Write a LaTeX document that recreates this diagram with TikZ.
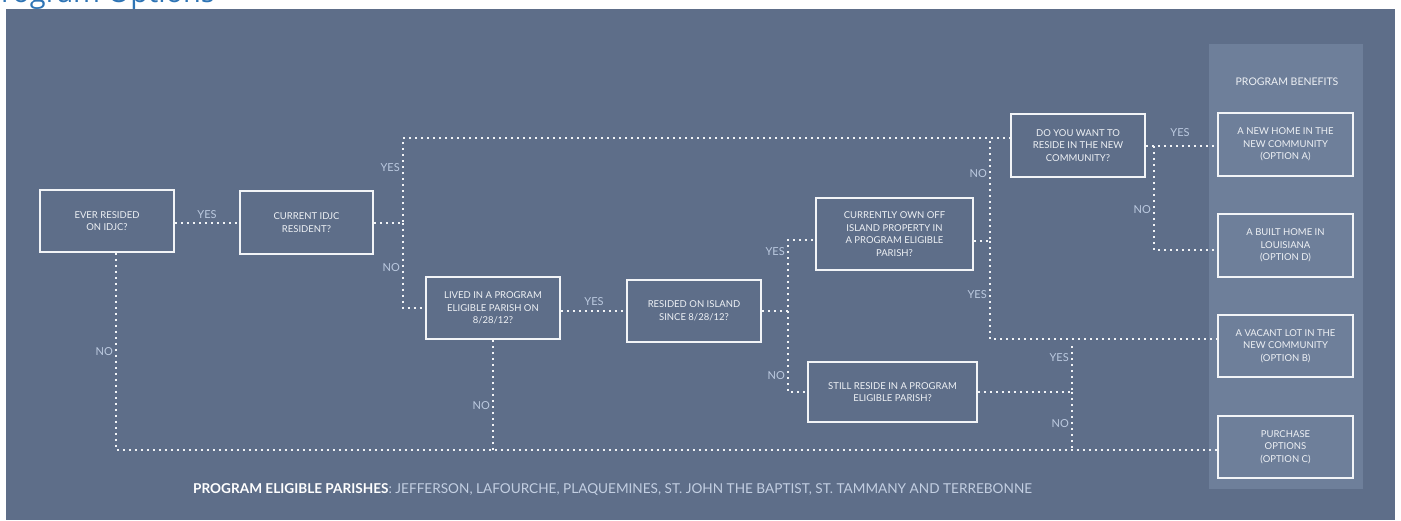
\documentclass[tikz,border=0pt]{standalone}
\usepackage{fontspec}
\setmainfont{Lato}
\newfontfamily\titlefont{Open Sans}
\definecolor{panel}{HTML}{5E6E89}
\definecolor{column}{HTML}{6E7F9A}
\definecolor{boxline}{HTML}{F2F4F7}
\definecolor{boxtext}{HTML}{EEF1F5}
\definecolor{lblcol}{HTML}{BCCAE0}
\definecolor{titleblue}{HTML}{2E74B5}
\definecolor{foottext}{HTML}{C3CFE2}
\tikzset{
  qbox/.style={draw=boxline, line width=1.6pt, inner sep=0pt, align=center,
    text=boxtext, font=\fontsize{9.5}{12.5}\selectfont,
    minimum width=134pt, minimum height=62pt},
  dotline/.style={draw=boxline, line width=2pt, dash pattern=on 2pt off 4pt},
  lbl/.style={text=lblcol, font=\fontsize{11}{13}\selectfont, inner sep=0pt},
}
\begin{document}
\begin{tikzpicture}[x=1pt,y=-1pt]
\useasboundingbox (0,0) rectangle (1401,520);
\clip (0,0) rectangle (1401,520);
\fill[panel] (6,9) rectangle (1395,520);
\fill[column] (1209,44) rectangle (1363,489);
\node[anchor=base east, inner sep=0pt, text=titleblue, font=\titlefont\fontsize{29}{32}\selectfont] (title) at (215,2.5) {Program Options};

% question boxes
\node[qbox] (b1) at (107,221) {EVER RESIDED\\ON IDJC?};
\node[qbox, minimum width=133pt, minimum height=63pt] (b2) at (306.5,222.5) {CURRENT IDJC\\RESIDENT?};
\node[qbox] (b3) at (493,308) {LIVED IN A PROGRAM\\ELIGIBLE PARISH ON\\8/28/12?};
\node[qbox] (b4) at (694,311) {RESIDED ON ISLAND\\SINCE 8/28/12?};
\node[qbox, minimum width=157pt, minimum height=72pt] (b5) at (894.5,234) {CURRENTLY OWN OFF\\ISLAND PROPERTY IN\\A PROGRAM ELIGIBLE\\PARISH?};
\node[qbox, minimum width=169pt, minimum height=60pt] (b6) at (892.5,392) {STILL RESIDE IN A PROGRAM\\ELIGIBLE PARISH?};
\node[qbox, minimum height=63pt] (b7) at (1078,145.5) {DO YOU WANT TO\\RESIDE IN THE NEW\\COMMUNITY?};

% benefits
\node[text=boxtext, font=\fontsize{10.5}{13}\selectfont, inner sep=0pt] (ben) at (1287,82) {PROGRAM BENEFITS};
\node[qbox, minimum width=135pt, minimum height=63pt] (oA) at (1285.5,144.5) {A NEW HOME IN THE\\NEW COMMUNITY\\(OPTION A)};
\node[qbox, minimum width=135pt, minimum height=63pt] (oD) at (1285.5,245.5) {A BUILT HOME IN\\LOUISIANA\\(OPTION D)};
\node[qbox, minimum width=135pt, minimum height=62pt] (oB) at (1285.5,346) {A VACANT LOT IN THE\\NEW COMMUNITY\\(OPTION B)};
\node[qbox, minimum width=135pt, minimum height=62pt] (oC) at (1285.5,447) {PURCHASE\\OPTIONS\\(OPTION C)};

% junction coordinates
\coordinate (j1) at (403,222.5);
\coordinate (ttop) at (403,138);
\coordinate (bot) at (116,450);
\coordinate (j2) at (788,311);
\coordinate (j3) at (990,241);
\coordinate (j4) at (1072,392);
\coordinate (j5) at (1154,146);

% connectors
\draw[dotline] (b1.east |- b2.west) -- (b2.west);
\draw[dotline] (b2.east) -- (j1) |- (b7.west |- ttop);
\draw[dotline] (j1) |- (b3.west);
\draw[dotline] (b1.south -| bot) -- (bot) -- ([yshift=-3pt]oC.west);
\draw[dotline] (b3.south) -- (b3.south |- bot);
\draw[dotline] (b3.east |- b4.west) -- (b4.west);
\draw[dotline] (b4.east) -- (j2) |- ([yshift=-6pt]b5.west);
\draw[dotline] (j2) |- (b6.west);
\draw[dotline] ([yshift=-7pt]b5.east) -- (j3) -- (j3 |- ttop);
\draw[dotline] (j3) |- ([yshift=7pt]oB.west);
\draw[dotline] (b6.east) -- (j4) -- (j4 |- oB.west) ;
\draw[dotline] (j4) -- (j4 |- bot);
\draw[dotline] (b7.east |- j5) -- (j5) -- (j5 -| oA.west);
\draw[dotline] (j5) |- ([yshift=-4.5pt]oD.west);

% labels
\node[lbl] (l1) at (207,215) {YES};
\node[lbl, anchor=east] (l2) at (400,168) {YES};
\node[lbl, anchor=east] (l3) at (400,268) {NO};
\node[lbl, anchor=east] (l4) at (113,352) {NO};
\node[lbl, anchor=east] (l5) at (490,406) {NO};
\node[lbl] (l6) at (594,302) {YES};
\node[lbl, anchor=east] (l7) at (785,252) {YES};
\node[lbl, anchor=east] (l8) at (785,376) {NO};
\node[lbl, anchor=east] (l9) at (987,174) {NO};
\node[lbl, anchor=east] (l10) at (987,295) {YES};
\node[lbl, anchor=east] (l11) at (1069,358) {YES};
\node[lbl, anchor=east] (l12) at (1069,424) {NO};
\node[lbl] (l13) at (1180,133) {YES};
\node[lbl, anchor=east] (l14) at (1151,210) {NO};

% footer
\node[anchor=west, inner sep=0pt, font=\fontsize{13.6}{15}\selectfont, text=foottext] (foot) at (193,490)
  {\textcolor{white}{\bfseries PROGRAM ELIGIBLE PARISHES}: JEFFERSON, LAFOURCHE, PLAQUEMINES, ST. JOHN THE BAPTIST, ST. TAMMANY AND TERREBONNE};
\end{tikzpicture}
\end{document}
